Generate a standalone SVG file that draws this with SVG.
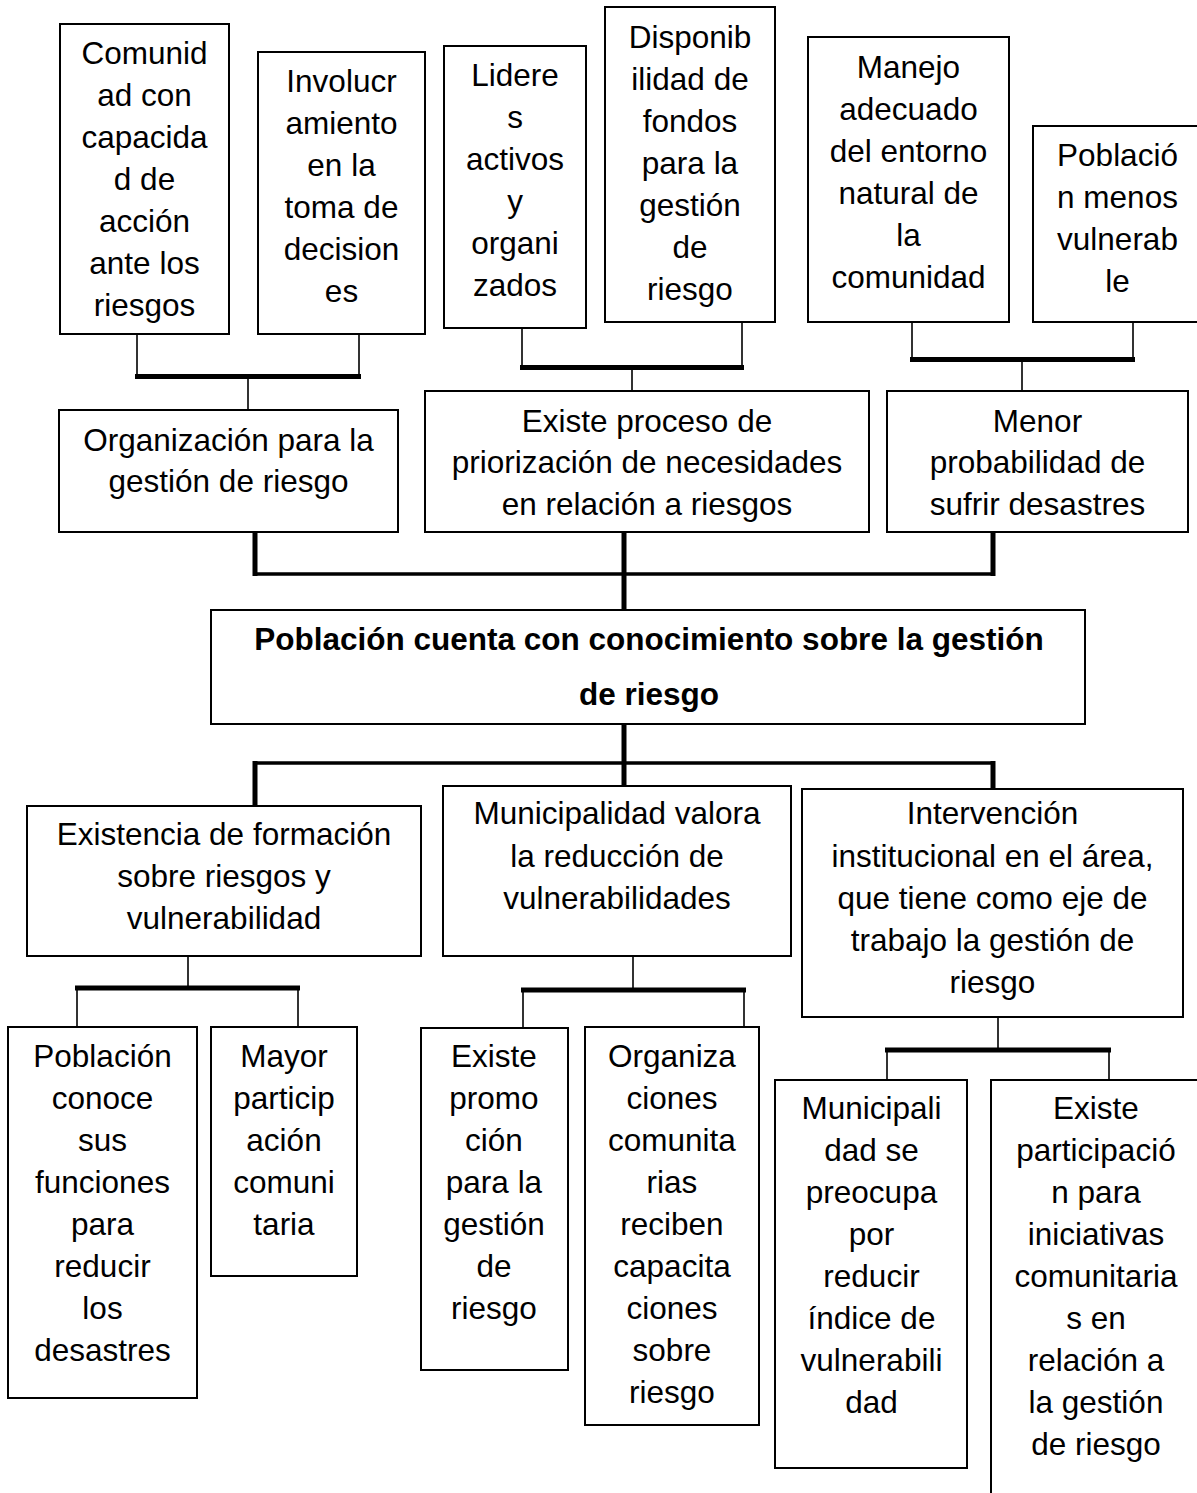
<svg xmlns="http://www.w3.org/2000/svg" width="1197" height="1493" viewBox="0 0 1197 1493">
<style>
.box{fill:#fff;stroke:#000;stroke-width:2}
.open{fill:none;stroke:#000;stroke-width:2}
.thin{fill:none;stroke:#333;stroke-width:2}
.bar{fill:none;stroke:#000;stroke-width:5}
.hbar{fill:none;stroke:#000;stroke-width:3.5}
text{font-family:"Liberation Sans",Arial,sans-serif;font-size:31.5px;fill:#000;text-anchor:middle}
.b{font-weight:bold}
</style>
<rect width="1197" height="1493" fill="#fff"/>
<g id="connectors">
<path class="thin" d="M137 334V377M359 334V377M248 377V409"/>
<path class="bar" d="M135 376.5H361"/>
<path class="thin" d="M522 328V368M742 322V368M632 368V391"/>
<path class="bar" d="M520 367.5H744"/>
<path class="thin" d="M912 322V360M1133 322V360M1022 360V391"/>
<path class="bar" d="M910 359.5H1135"/>
<path class="bar" d="M255 532V576M624 532V611M993 532V576"/>
<path class="hbar" d="M255 574H995"/>
<path class="bar" d="M624 724V789M255 761V806M993 761V789"/>
<path class="hbar" d="M253 763H995"/>
<path class="thin" d="M188 956V988M77 988V1027M298 988V1027"/>
<path class="bar" d="M75 988H300"/>
<path class="thin" d="M633 956V990M523 990V1027M744 990V1027"/>
<path class="bar" d="M521 990H746"/>
<path class="thin" d="M998 1017V1050M887 1050V1080M1109 1050V1080"/>
<path class="bar" d="M885 1050H1111"/>
</g>
<g id="n-comunidad">
<rect class="box" x="60" y="24" width="169" height="310"/>
<text x="144.5"><tspan x="144.5" y="64">Comunid</tspan><tspan x="144.5" y="106">ad con</tspan><tspan x="144.5" y="148">capacida</tspan><tspan x="144.5" y="190">d de</tspan><tspan x="144.5" y="232">acción</tspan><tspan x="144.5" y="274">ante los</tspan><tspan x="144.5" y="316">riesgos</tspan></text>
</g>
<g id="n-involucramiento">
<rect class="box" x="258" y="52" width="167" height="282"/>
<text><tspan x="341.5" y="92">Involucr</tspan><tspan x="341.5" y="134">amiento</tspan><tspan x="341.5" y="176">en la</tspan><tspan x="341.5" y="218">toma de</tspan><tspan x="341.5" y="260">decision</tspan><tspan x="341.5" y="302">es</tspan></text>
</g>
<g id="n-lideres">
<rect class="box" x="444" y="46" width="142" height="282"/>
<text><tspan x="515" y="86">Lidere</tspan><tspan x="515" y="128">s</tspan><tspan x="515" y="170">activos</tspan><tspan x="515" y="212">y</tspan><tspan x="515" y="254">organi</tspan><tspan x="515" y="296">zados</tspan></text>
</g>
<g id="n-disponibilidad">
<rect class="box" x="605" y="7" width="170" height="315"/>
<text><tspan x="690" y="48">Disponib</tspan><tspan x="690" y="90">ilidad de</tspan><tspan x="690" y="132">fondos</tspan><tspan x="690" y="174">para la</tspan><tspan x="690" y="216">gestión</tspan><tspan x="690" y="258">de</tspan><tspan x="690" y="300">riesgo</tspan></text>
</g>
<g id="n-manejo">
<rect class="box" x="808" y="37" width="201" height="285"/>
<text><tspan x="908.5" y="78">Manejo</tspan><tspan x="908.5" y="120">adecuado</tspan><tspan x="908.5" y="162">del entorno</tspan><tspan x="908.5" y="204">natural de</tspan><tspan x="908.5" y="246">la</tspan><tspan x="908.5" y="288">comunidad</tspan></text>
</g>
<g id="n-poblacion-menos">
<path class="open" d="M1197 126H1033V322H1197" fill="#fff"/>
<text><tspan x="1117.5" y="166">Població</tspan><tspan x="1117.5" y="208">n menos</tspan><tspan x="1117.5" y="250">vulnerab</tspan><tspan x="1117.5" y="292">le</tspan></text>
</g>
<g id="n-organizacion">
<rect class="box" x="59" y="410" width="339" height="122"/>
<text><tspan x="228.5" y="451">Organización para la</tspan><tspan x="228.5" y="492">gestión de riesgo</tspan></text>
</g>
<g id="n-priorizacion">
<rect class="box" x="425" y="391" width="444" height="141"/>
<text><tspan x="647" y="432">Existe proceso de</tspan><tspan x="647" y="473">priorización de necesidades</tspan><tspan x="647" y="515">en relación a riesgos</tspan></text>
</g>
<g id="n-menor">
<rect class="box" x="887" y="391" width="301" height="141"/>
<text><tspan x="1037.5" y="432">Menor</tspan><tspan x="1037.5" y="473">probabilidad de</tspan><tspan x="1037.5" y="515">sufrir desastres</tspan></text>
</g>
<g id="n-central">
<rect class="box" x="211" y="610" width="874" height="114"/>
<text class="b"><tspan x="649" y="650">Población cuenta con conocimiento sobre la gestión</tspan><tspan x="649" y="705">de riesgo</tspan></text>
</g>
<g id="n-existencia">
<rect class="box" x="27" y="806" width="394" height="150"/>
<text><tspan x="224" y="845">Existencia de formación</tspan><tspan x="224" y="887">sobre riesgos y</tspan><tspan x="224" y="929">vulnerabilidad</tspan></text>
</g>
<g id="n-municipalidad-valora">
<rect class="box" x="443" y="786" width="348" height="170"/>
<text><tspan x="617" y="824">Municipalidad valora</tspan><tspan x="617" y="867">la reducción de</tspan><tspan x="617" y="909">vulnerabilidades</tspan></text>
</g>
<g id="n-intervencion">
<rect class="box" x="802" y="789" width="381" height="228"/>
<text><tspan x="992.5" y="824">Intervención</tspan><tspan x="992.5" y="867">institucional en el área,</tspan><tspan x="992.5" y="909">que tiene como eje de</tspan><tspan x="992.5" y="951">trabajo la gestión de</tspan><tspan x="992.5" y="993">riesgo</tspan></text>
</g>
<g id="n-poblacion-conoce">
<rect class="box" x="8" y="1027" width="189" height="371"/>
<text><tspan x="102.5" y="1067">Población</tspan><tspan x="102.5" y="1109">conoce</tspan><tspan x="102.5" y="1151">sus</tspan><tspan x="102.5" y="1193">funciones</tspan><tspan x="102.5" y="1235">para</tspan><tspan x="102.5" y="1277">reducir</tspan><tspan x="102.5" y="1319">los</tspan><tspan x="102.5" y="1361">desastres</tspan></text>
</g>
<g id="n-mayor">
<rect class="box" x="211" y="1027" width="146" height="249"/>
<text><tspan x="284" y="1067">Mayor</tspan><tspan x="284" y="1109">particip</tspan><tspan x="284" y="1151">ación</tspan><tspan x="284" y="1193">comuni</tspan><tspan x="284" y="1235">taria</tspan></text>
</g>
<g id="n-promocion">
<rect class="box" x="421" y="1028" width="147" height="342"/>
<text><tspan x="494" y="1067">Existe</tspan><tspan x="494" y="1109">promo</tspan><tspan x="494" y="1151">ción</tspan><tspan x="494" y="1193">para la</tspan><tspan x="494" y="1235">gestión</tspan><tspan x="494" y="1277">de</tspan><tspan x="494" y="1319">riesgo</tspan></text>
</g>
<g id="n-organizaciones">
<rect class="box" x="585" y="1027" width="174" height="398"/>
<text><tspan x="672" y="1067">Organiza</tspan><tspan x="672" y="1109">ciones</tspan><tspan x="672" y="1151">comunita</tspan><tspan x="672" y="1193">rias</tspan><tspan x="672" y="1235">reciben</tspan><tspan x="672" y="1277">capacita</tspan><tspan x="672" y="1319">ciones</tspan><tspan x="672" y="1361">sobre</tspan><tspan x="672" y="1403">riesgo</tspan></text>
</g>
<g id="n-municipalidad-preocupa">
<rect class="box" x="775" y="1080" width="192" height="388"/>
<text><tspan x="871.5" y="1119">Municipali</tspan><tspan x="871.5" y="1161">dad se</tspan><tspan x="871.5" y="1203">preocupa</tspan><tspan x="871.5" y="1245">por</tspan><tspan x="871.5" y="1287">reducir</tspan><tspan x="871.5" y="1329">índice de</tspan><tspan x="871.5" y="1371">vulnerabili</tspan><tspan x="871.5" y="1413">dad</tspan></text>
</g>
<g id="n-participacion">
<path class="open" d="M1197 1080H991V1493"/>
<text><tspan x="1096" y="1119">Existe</tspan><tspan x="1096" y="1161">participació</tspan><tspan x="1096" y="1203">n para</tspan><tspan x="1096" y="1245">iniciativas</tspan><tspan x="1096" y="1287">comunitaria</tspan><tspan x="1096" y="1329">s en</tspan><tspan x="1096" y="1371">relación a</tspan><tspan x="1096" y="1413">la gestión</tspan><tspan x="1096" y="1455">de riesgo</tspan></text>
</g>
</svg>
